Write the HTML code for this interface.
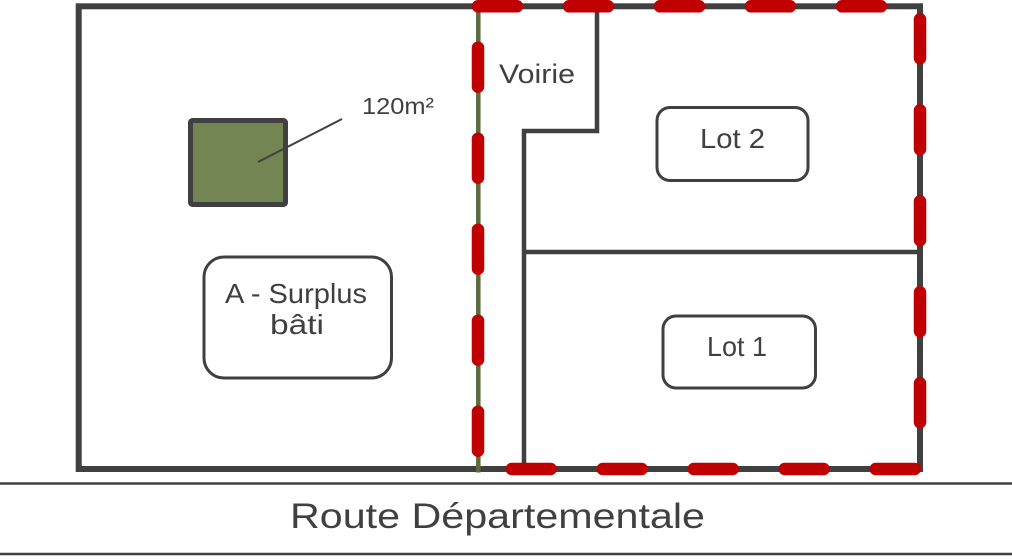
<!DOCTYPE html>
<html>
<head>
<meta charset="utf-8">
<style>
  html,body{margin:0;padding:0;background:#fff;}
  body{width:1012px;height:560px;overflow:hidden;}
  svg{display:block;}
  text{font-family:"Liberation Sans","DejaVu Sans",sans-serif;fill:#404040;}
</style>
</head>
<body>
<svg width="1012" height="560" viewBox="0 0 1012 560" xmlns="http://www.w3.org/2000/svg">
  <rect x="0" y="0" width="1012" height="560" fill="#ffffff"/>

  <!-- road lines -->
  <line x1="0" y1="483.5" x2="1012" y2="483.5" stroke="#404040" stroke-width="2.5"/>
  <line x1="0" y1="554" x2="1012" y2="554" stroke="#404040" stroke-width="2.5"/>

  <!-- main parcel -->
  <rect x="78.7" y="6.3" width="841.3" height="462.7" fill="none" stroke="#404040" stroke-width="6"/>

  <!-- inner walls -->
  <polyline points="597,6 597,131 524,131 524,469" fill="none" stroke="#404040" stroke-width="4.5"/>
  <line x1="524" y1="252" x2="920" y2="252" stroke="#404040" stroke-width="4.5"/>

  <!-- green dividing line -->
  <line x1="478.3" y1="6" x2="478.3" y2="472.5" stroke="#5a6b3c" stroke-width="4.5"/>

  <!-- red dashed boundary -->
  <path d="M478,6.3 H920 V469 H478 V6.3" fill="none" stroke="#c00000" stroke-width="12.5"
        stroke-linecap="round" stroke-dasharray="39 52"/>

  <!-- building -->
  <rect x="190.5" y="120.5" width="95" height="84" rx="2" fill="#738552" stroke="#404040" stroke-width="5"/>
  <line x1="258" y1="162" x2="342" y2="119" stroke="#404040" stroke-width="2"/>
  <text x="362" y="114" font-size="23" textLength="72" lengthAdjust="spacingAndGlyphs">120m²</text>

  <!-- Voirie -->
  <text x="499" y="83" font-size="27" textLength="76" lengthAdjust="spacingAndGlyphs">Voirie</text>

  <!-- A - Surplus bâti box -->
  <rect x="204" y="257" width="187.5" height="121" rx="20" fill="none" stroke="#404040" stroke-width="3"/>
  <text x="225" y="303" font-size="28" textLength="142" lengthAdjust="spacingAndGlyphs">A - Surplus</text>
  <text x="270" y="334" font-size="28" textLength="54" lengthAdjust="spacingAndGlyphs">bâti</text>

  <!-- Lot 2 -->
  <rect x="657" y="107.5" width="151" height="73" rx="13" fill="none" stroke="#404040" stroke-width="3"/>
  <text x="700" y="148" font-size="28" textLength="65" lengthAdjust="spacingAndGlyphs">Lot 2</text>

  <!-- Lot 1 -->
  <rect x="663" y="316" width="152.5" height="72" rx="13" fill="none" stroke="#404040" stroke-width="3"/>
  <text x="707" y="356" font-size="28" textLength="60" lengthAdjust="spacingAndGlyphs">Lot 1</text>

  <!-- road label -->
  <text x="290" y="528" font-size="35" textLength="415" lengthAdjust="spacingAndGlyphs">Route Départementale</text>
</svg>
</body>
</html>
